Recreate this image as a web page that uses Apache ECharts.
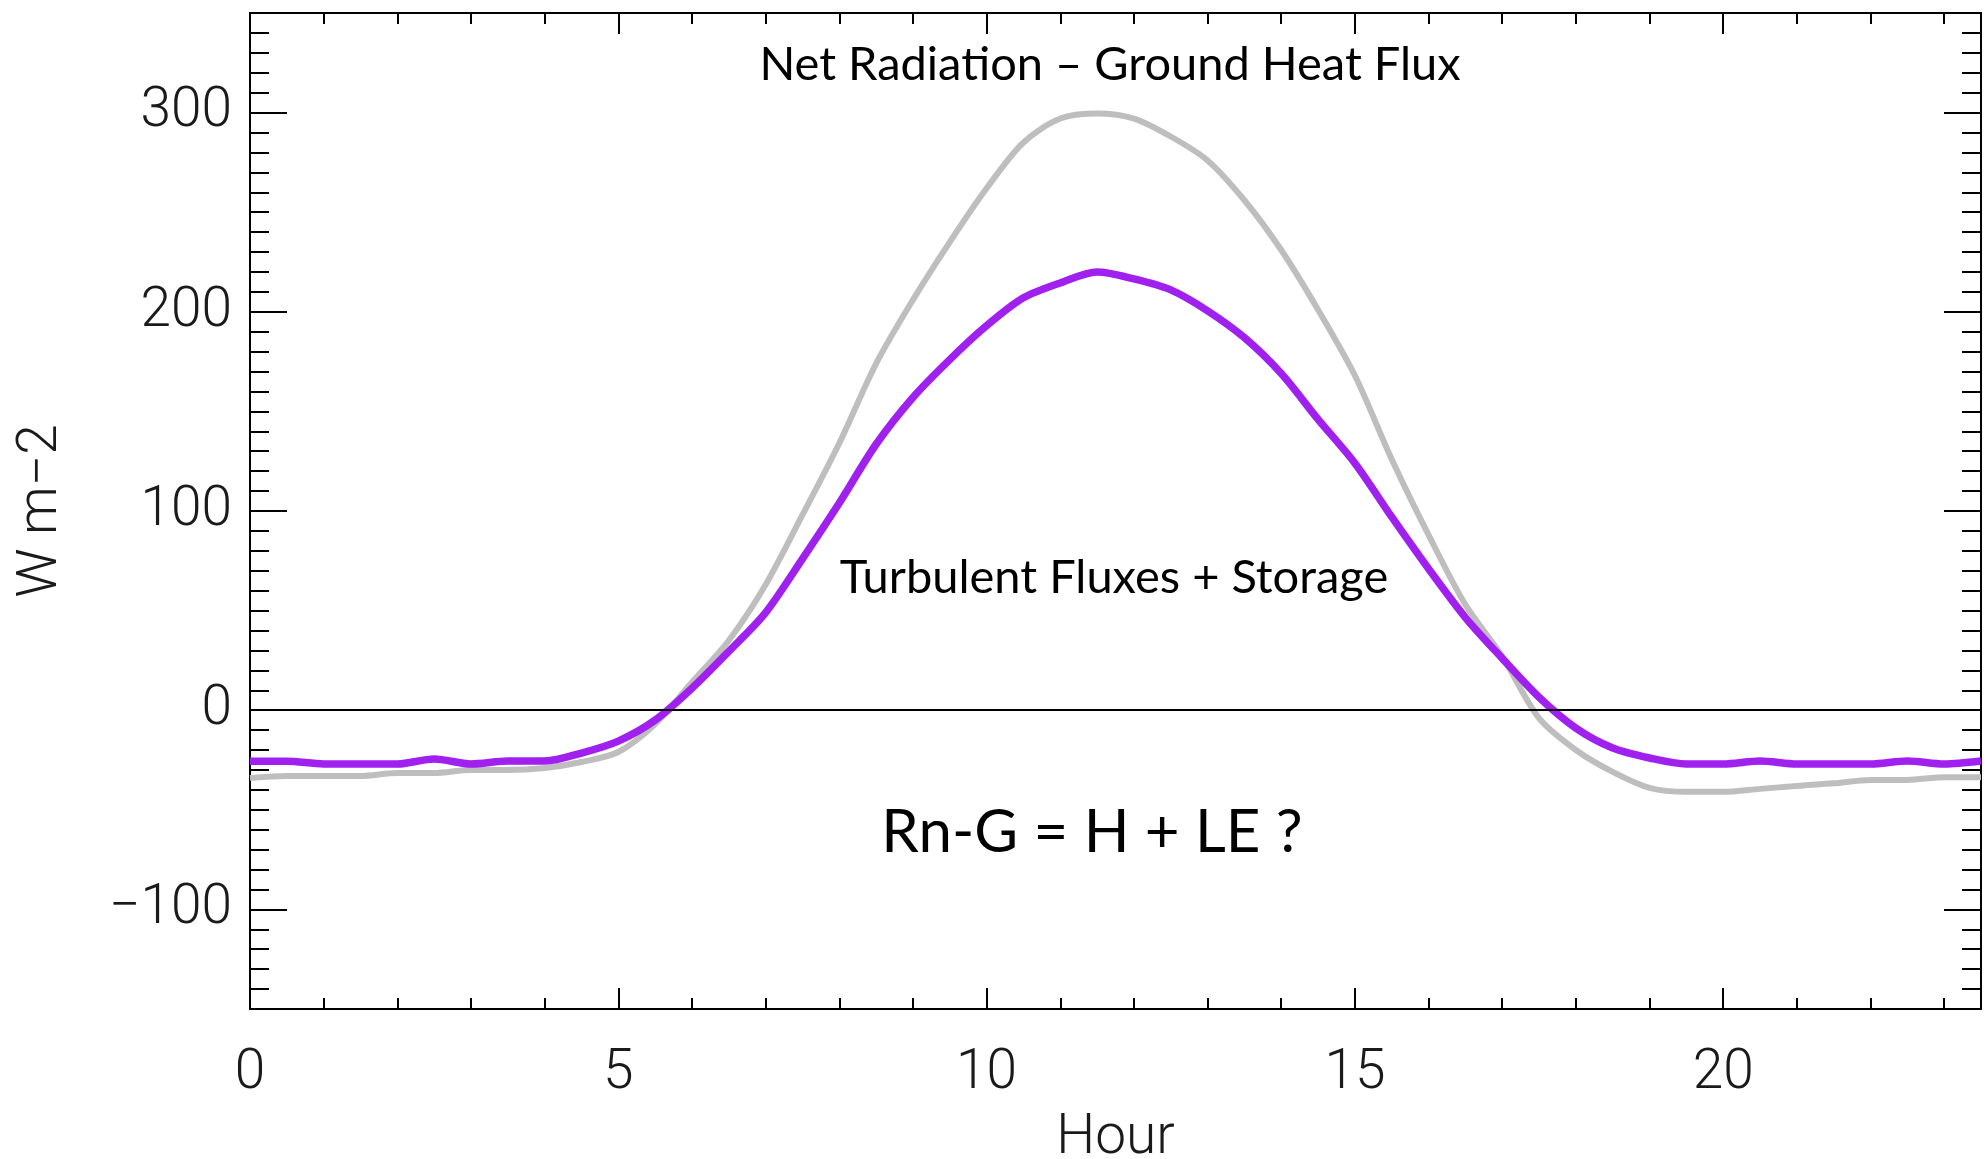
<!DOCTYPE html>
<html>
<head>
<meta charset="utf-8">
<script src="https://cdn.jsdelivr.net/npm/echarts@6/dist/echarts.min.js"></script>
<style>
  html, body { margin: 0; padding: 0; background: #ffffff; }
  #chart { width: 1988px; height: 1159px; }
</style>
</head>
<body>
<div id="chart"></div>
<script>
// Half-hourly mean diurnal cycle (hour of day)
const hours = [
  0, 0.5, 1, 1.5, 2, 2.5, 3, 3.5, 4, 4.5, 5, 5.5,
  6, 6.5, 7, 7.5, 8, 8.5, 9, 9.5, 10, 10.5, 11, 11.5,
  12, 12.5, 13, 13.5, 14, 14.5, 15, 15.5, 16, 16.5, 17, 17.5,
  18, 18.5, 19, 19.5, 20, 20.5, 21, 21.5, 22, 22.5, 23, 23.5
];

// Net radiation minus ground heat flux (W m-2)
const netRadMinusGround = [
  -34, -33, -33, -33, -31.5, -31.5, -30, -30, -29, -26, -21, -7,
  14, 35, 63, 98, 134, 174, 206, 235, 262, 285, 297, 299.5,
  297, 288, 276, 256, 231, 201, 168, 126, 88, 53, 27, -4,
  -20, -31, -39, -41, -41, -39.5, -38, -36.7, -35, -35, -33.6, -33.6
];

// Sensible + latent heat flux plus storage (W m-2)
const turbulentPlusStorage = [
  -25.6, -25.6, -27, -27, -27, -24.5, -27, -25.5, -25.5, -21.5, -15.5, -5,
  11, 29.5, 49, 76, 104, 133.5, 157, 176, 193, 207, 214.5, 220,
  216.5, 211, 200.5, 187, 169, 146, 124, 97, 71, 46.5, 26, 6.5,
  -9, -19, -24, -27, -27, -25.5, -27, -27, -27, -25.5, -27, -25.5
];

// Axis ticks
const xMajorTicks = [0, 5, 10, 15, 20];
const yMajorTicks = [-100, 0, 100, 200, 300];
const xRange = [0, 23.5];
const yRange = [-150, 350];

const toPairs = (xs, ys) => xs.map((x, i) => [x, ys[i]]);

const tickFont = {
  fontFamily: 'Roboto',
  fontWeight: 300,
  fontSize: 55,
  color: '#1a1a1a'
};
const frameLine = { show: true, onZero: false, lineStyle: { color: '#000', width: 2 } };
const tickLine = { color: '#000', width: 2 };

function xAxisDef(position, major, withLabels) {
  return {
    type: 'value',
    position: position,
    min: xRange[0],
    max: xRange[1],
    interval: major ? undefined : 1,
    axisLine: frameLine,
    splitLine: { show: false },
    axisTick: major
      ? { show: true, inside: true, length: 21, customValues: xMajorTicks, lineStyle: tickLine }
      : { show: true, inside: true, length: 11, lineStyle: tickLine },
    axisLabel: withLabels
      ? Object.assign({ show: true, margin: 38, customValues: xMajorTicks }, tickFont)
      : { show: false },
    name: withLabels ? 'Hour' : '',
    nameLocation: 'middle',
    nameGap: 103,
    nameTextStyle: tickFont
  };
}

function yAxisDef(position, major, withLabels) {
  return {
    type: 'value',
    position: position,
    min: yRange[0],
    max: yRange[1],
    interval: major ? undefined : 10,
    axisLine: frameLine,
    splitLine: { show: false },
    axisTick: major
      ? { show: true, inside: true, length: 37, customValues: yMajorTicks, lineStyle: tickLine }
      : { show: true, inside: true, length: 19, lineStyle: tickLine },
    axisLabel: withLabels
      ? Object.assign({
          show: true, margin: 18, customValues: yMajorTicks,
          formatter: v => String(v).replace('-', '\u2212')
        }, tickFont)
      : { show: false },
    name: withLabels ? 'W m\u22122' : '',
    nameLocation: 'middle',
    nameGap: 180,
    nameRotate: 90,
    nameTextStyle: tickFont
  };
}

const chart = echarts.init(document.getElementById('chart'), null, { renderer: 'canvas' });

const annotationFont = { fontFamily: 'Lato', fill: '#000', align: 'center', verticalAlign: 'middle' };

chart.setOption({
  animation: false,
  backgroundColor: '#ffffff',
  grid: {
    left: 250, right: 7, top: 13, bottom: 150,
    containLabel: false,
    outerBoundsMode: 'none'
  },
  xAxis: [
    xAxisDef('bottom', true, true),
    xAxisDef('bottom', false, false),
    xAxisDef('top', true, false),
    xAxisDef('top', false, false)
  ],
  yAxis: [
    yAxisDef('left', true, true),
    yAxisDef('left', false, false),
    yAxisDef('right', true, false),
    yAxisDef('right', false, false)
  ],
  series: [
    {
      name: 'Net Radiation \u2013 Ground Heat Flux',
      type: 'line',
      xAxisIndex: 0,
      yAxisIndex: 0,
      data: toPairs(hours, netRadMinusGround),
      showSymbol: false,
      smooth: 0.3,
      lineStyle: { color: '#bebebe', width: 6 },
      z: 2
    },
    {
      name: 'Turbulent Fluxes + Storage',
      type: 'line',
      xAxisIndex: 0,
      yAxisIndex: 0,
      data: toPairs(hours, turbulentPlusStorage),
      showSymbol: false,
      smooth: 0.3,
      lineStyle: { color: '#a020f0', width: 7.5 },
      z: 3,
      markLine: {
        silent: true,
        symbol: 'none',
        label: { show: false },
        lineStyle: { color: '#000', width: 2, type: 'solid' },
        data: [{ yAxis: 0 }],
        z: 5
      }
    }
  ],
  graphic: [
    {
      type: 'text', x: 1110, y: 65, z: 10,
      style: Object.assign({ text: 'Net Radiation \u2013 Ground Heat Flux', fontSize: 47 }, annotationFont)
    },
    {
      type: 'text', x: 1114, y: 578, z: 10,
      style: Object.assign({ text: 'Turbulent Fluxes + Storage', fontSize: 47 }, annotationFont)
    },
    {
      type: 'text', x: 1092, y: 833, z: 10,
      style: Object.assign({ text: 'Rn-G = H + LE ?', fontSize: 60 }, annotationFont)
    }
  ]
});
</script>
</body>
</html>
